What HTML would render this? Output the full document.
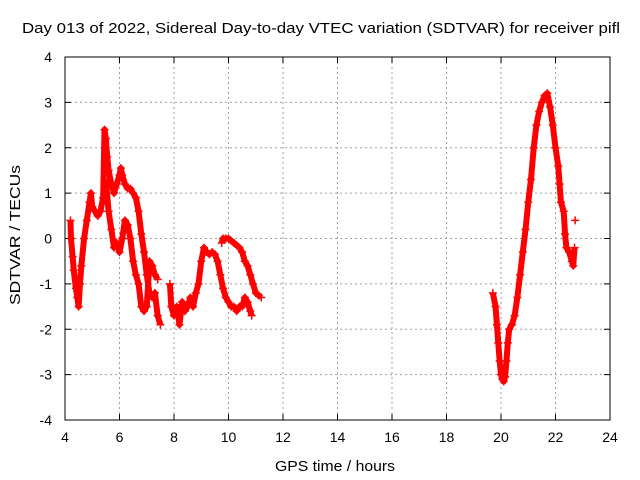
<!DOCTYPE html>
<html><head><meta charset="utf-8"><style>
body{margin:0;background:#fff}
svg{display:block;font-family:"Liberation Sans",sans-serif}
</style></head><body>
<svg id="c" width="640" height="480">
<text x="22" y="33" font-size="15" textLength="598" lengthAdjust="spacingAndGlyphs">Day 013 of 2022, Sidereal Day-to-day VTEC variation (SDTVAR) for receiver pifl</text>
<text x="275" y="471" font-size="15" textLength="120" lengthAdjust="spacingAndGlyphs">GPS time / hours</text>
<text transform="translate(20,305) rotate(-90)" font-size="15" textLength="140" lengthAdjust="spacingAndGlyphs">SDTVAR / TECUs</text>
<g id="grid"></g><g id="ticks"></g><g id="marks"></g>
<rect x="65" y="57" width="545" height="363" fill="none" stroke="#000" stroke-width="1"/>
</svg>
<script>
const xTicks=[4,6,8,10,12,14,16,18,20,22,24];
const yTicks=[-4,-3,-2,-1,0,1,2,3,4];
const trackA_x=[4.2,4.22,4.28,4.32,4.4,4.45,4.5,4.55,4.6,4.7,4.8,4.9,4.95,5.0,5.1,5.2,5.3,5.4,5.45,5.5,5.55,5.6,5.7,5.8,5.9,6.0,6.05,6.1,6.2,6.3,6.4,6.5,6.6,6.7,6.8,6.9,7.0,7.1,7.2,7.3,7.4,7.5];
const trackA_y=[0.4,0.0,-0.4,-0.7,-1.1,-1.3,-1.5,-1.0,-0.6,0.0,0.4,0.8,1.0,0.7,0.6,0.5,0.6,0.9,2.4,2.2,1.8,1.5,1.2,1.0,1.2,1.4,1.55,1.4,1.2,1.1,1.1,1.0,0.9,0.6,0.1,-0.3,-0.8,-1.2,-1.3,-1.2,-1.7,-1.9];
const trackB_x=[5.5,5.6,5.7,5.8,5.9,6.0,6.1,6.2,6.3,6.4,6.5,6.6,6.7,6.8,6.9,7.0,7.1,7.2,7.3,7.4];
const trackB_y=[1.3,0.6,0.2,-0.2,-0.1,-0.3,0.0,0.4,0.3,0.0,-0.5,-0.8,-1.0,-1.5,-1.6,-1.5,-0.5,-0.6,-0.8,-0.9];
const trackC_x=[7.85,7.9,8.0,8.1,8.2,8.3,8.4,8.5,8.6,8.7,8.8,8.9,9.0,9.1,9.2,9.3,9.4,9.5,9.6,9.7,9.8,9.9,10.0,10.1,10.2,10.3,10.4,10.5,10.6,10.7,10.8,10.85];
const trackC_y=[-1.0,-1.5,-1.7,-1.5,-1.9,-1.4,-1.6,-1.5,-1.3,-1.5,-1.2,-1.0,-0.5,-0.2,-0.3,-0.35,-0.3,-0.35,-0.5,-0.8,-1.1,-1.3,-1.4,-1.5,-1.5,-1.6,-1.5,-1.5,-1.3,-1.4,-1.6,-1.7];
const trackD_x=[9.75,9.8,9.9,10.0,10.1,10.2,10.3,10.4,10.5,10.6,10.7,10.8,10.9,11.0,11.1,11.2];
const trackD_y=[-0.1,0.0,0.0,0.0,-0.05,-0.1,-0.15,-0.2,-0.3,-0.5,-0.6,-0.8,-1.0,-1.2,-1.25,-1.3];
const trackE_x=[19.7,19.8,19.85,19.9,19.95,20.0,20.05,20.1,20.15,20.2,20.25,20.3,20.4,20.5,20.6,20.7,20.8,20.9,21.0,21.1,21.2,21.3,21.4,21.5,21.6,21.7,21.8,21.9,22.0,22.1,22.15,22.2,22.3,22.35,22.4,22.5,22.6,22.65,22.7];
const trackE_y=[-1.2,-1.5,-1.9,-2.3,-2.7,-3.0,-3.1,-3.15,-3.05,-2.7,-2.3,-2.0,-1.9,-1.7,-1.3,-0.8,-0.3,0.2,0.8,1.3,2.0,2.5,2.8,3.0,3.15,3.2,2.9,2.5,2.0,1.6,1.2,0.8,0.6,0.1,-0.2,-0.3,-0.5,-0.6,-0.2];
const lone_x=[22.72];
const lone_y=[0.4];
const X=h=>65+(h-4)*27.25, Y=v=>238.5-v*45.375;
const NS="http://www.w3.org/2000/svg";
const mk=(t,a,p)=>{const e=document.createElementNS(NS,t);for(const k in a)e.setAttribute(k,a[k]);p.appendChild(e);return e;};
const g=document.getElementById('grid'),tk=document.getElementById('ticks'),m=document.getElementById('marks');
xTicks.forEach(t=>{const x=X(t);
 if(t>4&&t<24){const l=mk('line',{x1:x,x2:x,y1:57,y2:420,stroke:'#a0a0a0','stroke-dasharray':'2,3'},g);
 
 }
 mk('line',{x1:x,x2:x,y1:420,y2:414,stroke:'#000'},tk);mk('line',{x1:x,x2:x,y1:57,y2:63,stroke:'#000'},tk);
 const s=mk('text',{x:x,y:442,'font-size':14,'text-anchor':'middle'},tk);s.textContent=t;
 
 });
yTicks.forEach(t=>{const y=Y(t);
 if(t>-4&&t<4){const l=mk('line',{x1:65,x2:610,y1:y,y2:y,stroke:'#a0a0a0','stroke-dasharray':'2,3'},g);
 
 }
 mk('line',{x1:65,x2:71,y1:y,y2:y,stroke:'#000'},tk);mk('line',{x1:610,x2:604,y1:y,y2:y,stroke:'#000'},tk);
 const s=mk('text',{x:52,y:y+5,'font-size':14,'text-anchor':'end'},tk);s.textContent=t;
 
 });
[[trackA_x,trackA_y],[trackB_x,trackB_y],[trackC_x,trackC_y],[trackD_x,trackD_y],[trackE_x,trackE_y],[lone_x,lone_y]].forEach(([xs,ys],i)=>{
 if(xs.length>1){const pl=mk('polyline',{points:xs.map((x,j)=>X(x)+','+Y(ys[j])).join(' '),fill:'none',stroke:'#f00','stroke-width':6,'stroke-linejoin':'round'},m);
 
 }
 xs.forEach((x,j)=>{const px=X(x),py=Y(ys[j]);
  const p=mk('path',{d:`M${px-4},${py}h8M${px},${py-4}v8`,stroke:'#f00','stroke-width':1.5},m);
  
  });
});
</script>
</body></html>
